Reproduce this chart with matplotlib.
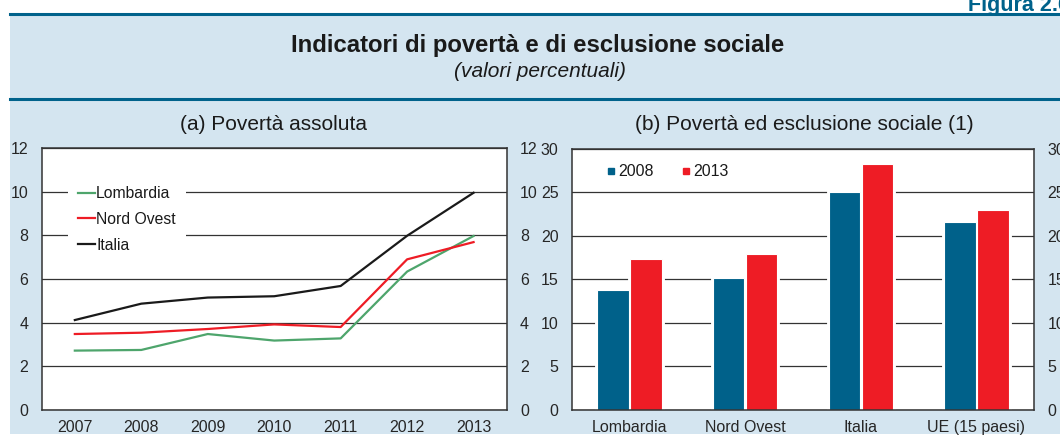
import matplotlib
matplotlib.use("Agg")
import matplotlib.pyplot as plt
from matplotlib.lines import Line2D
from matplotlib.patches import Rectangle
import numpy as np

plt.rcParams['font.family'] = ['Liberation Sans', 'DejaVu Sans']

# ---------------- data ----------------
years = [2007, 2008, 2009, 2010, 2011, 2012, 2013]
lombardia = [2.72, 2.75, 3.48, 3.18, 3.28, 6.34, 7.97]
nord_ovest = [3.48, 3.54, 3.71, 3.92, 3.80, 6.90, 7.69]
italia = [4.12, 4.87, 5.15, 5.21, 5.68, 7.98, 9.95]

bar_categories = ["Lombardia", "Nord Ovest", "Italia", "UE (15 paesi)"]
bar_2008 = [13.8, 15.2, 25.1, 21.6]
bar_2013 = [17.35, 17.9, 28.25, 22.95]

title = "Indicatori di povertà e di esclusione sociale"
subtitle = "(valori percentuali)"
title_a = "(a) Povertà assoluta"
title_b = "(b) Povertà ed esclusione sociale (1)"
fig_label = "Figura 2.6"

# ---------------- style ----------------
W, H = 1060, 436
BG = '#d4e5f0'
RULE = '#00628b'
C_GREEN = '#4ea56c'
C_RED = '#ee1c25'
C_BLACK = '#1a1a1a'
C_BLUE = '#00618a'
GRID = '#333333'
TXT = '#1a1a1a'
TICK_FS = 11.5


def fx(x):
    return x / W


def fy(y):
    return 1 - y / H


fig = plt.figure(figsize=(W / 100, H / 100), dpi=100)
fig.patch.set_facecolor('white')

# background panel
bg = Rectangle((fx(9.5), fy(434)), 1 - fx(9.5), (434 - 13) / H,
               transform=fig.transFigure, facecolor=BG, edgecolor='none', zorder=-10)
fig.add_artist(bg)
# rules
for y0 in (14.5, 99.5):
    fig.add_artist(Line2D([fx(9.5), 1], [fy(y0), fy(y0)], color=RULE, lw=2.2,
                          transform=fig.transFigure, zorder=-5))

fig.text(fx(968), fy(10.5), fig_label, fontsize=15.5, fontweight='bold',
         color=RULE, ha='left', va='baseline')
fig.text(fx(538), fy(52.3), title, fontsize=17.2, fontweight='bold', color=TXT,
         ha='center', va='baseline')
fig.text(fx(540), fy(76.7), subtitle, fontsize=15, style='italic', color=TXT,
         ha='center', va='baseline')
fig.text(fx(274), fy(125), title_a, fontsize=15, color=TXT, ha='center', va='center')
fig.text(fx(804), fy(125), title_b, fontsize=15, color=TXT, ha='center', va='center')


def style_axes(ax):
    ax.set_facecolor('white')
    for s in ax.spines.values():
        s.set_color(GRID)
        s.set_linewidth(1.1)
        s.set_zorder(5)
    ax.yaxis.grid(True, color=GRID, lw=0.9)
    ax.xaxis.grid(False)
    ax.set_axisbelow(True)
    ax.tick_params(axis='y', length=0, pad=9.5, labelsize=TICK_FS, labelcolor='#262626',
                   labelright=True, right=False)
    ax.tick_params(axis='x', length=0, pad=7.5, labelsize=TICK_FS, labelcolor='#262626')


# ---------------- panel (a) ----------------
ax1 = fig.add_axes([fx(41.6), fy(410), (506.8 - 41.6) / W, (410 - 148) / H])
style_axes(ax1)
ax1.plot(years, lombardia, color=C_GREEN, lw=1.6, label='Lombardia', zorder=3)
ax1.plot(years, nord_ovest, color=C_RED, lw=1.6, label='Nord Ovest', zorder=3)
ax1.plot(years, italia, color=C_BLACK, lw=1.6, label='Italia', zorder=3)
ax1.set_xlim(2006.5, 2013.5)
ax1.set_ylim(0, 12)
ax1.set_yticks(np.arange(0, 13, 2))
ax1.set_xticks(years)
leg1 = ax1.legend(loc='upper left', bbox_to_anchor=(0.057, 0.893), fontsize=11.3,
                  frameon=True, fancybox=False, facecolor='white', edgecolor='none',
                  framealpha=1, borderpad=0.65, handlelength=1.05, handletextpad=0.08,
                  labelspacing=0.68, borderaxespad=0)
for t in leg1.get_texts():
    t.set_color(TXT)

# ---------------- panel (b) ----------------
ax2 = fig.add_axes([fx(571.7), fy(409.5), (1034.3 - 571.7) / W, (409.5 - 149) / H])
style_axes(ax2)
x = np.arange(len(bar_categories))
off, bw = 0.143, 0.27
for xs, vals, col in ((x - off, bar_2008, C_BLUE), (x + off, bar_2013, C_RED)):
    ax2.bar(xs, vals, bw, color='white', edgecolor='white', lw=3.5, zorder=2.5)
    ax2.bar(xs, vals, bw, color=col, edgecolor='white', lw=0.8, zorder=3)
ax2.set_xlim(-0.5, 3.5)
ax2.set_ylim(0, 30)
ax2.set_yticks(np.arange(0, 31, 5))
ax2.set_xticks(x)
ax2.set_xticklabels(bar_categories)
handles = [Line2D([], [], marker='s', ls='none', color=C_BLUE, markersize=5),
           Line2D([], [], marker='s', ls='none', color=C_RED, markersize=5)]
leg2 = ax2.legend(handles, ['2008', '2013'], loc='center left',
                  bbox_to_anchor=(0.06, 0.912), ncol=2, fontsize=11.5, frameon=False,
                  handlelength=0.6, handletextpad=0.15, columnspacing=1.75,
                  borderaxespad=0)
for t in leg2.get_texts():
    t.set_color(TXT)

fig.savefig('out.png', dpi=100, facecolor='white')
